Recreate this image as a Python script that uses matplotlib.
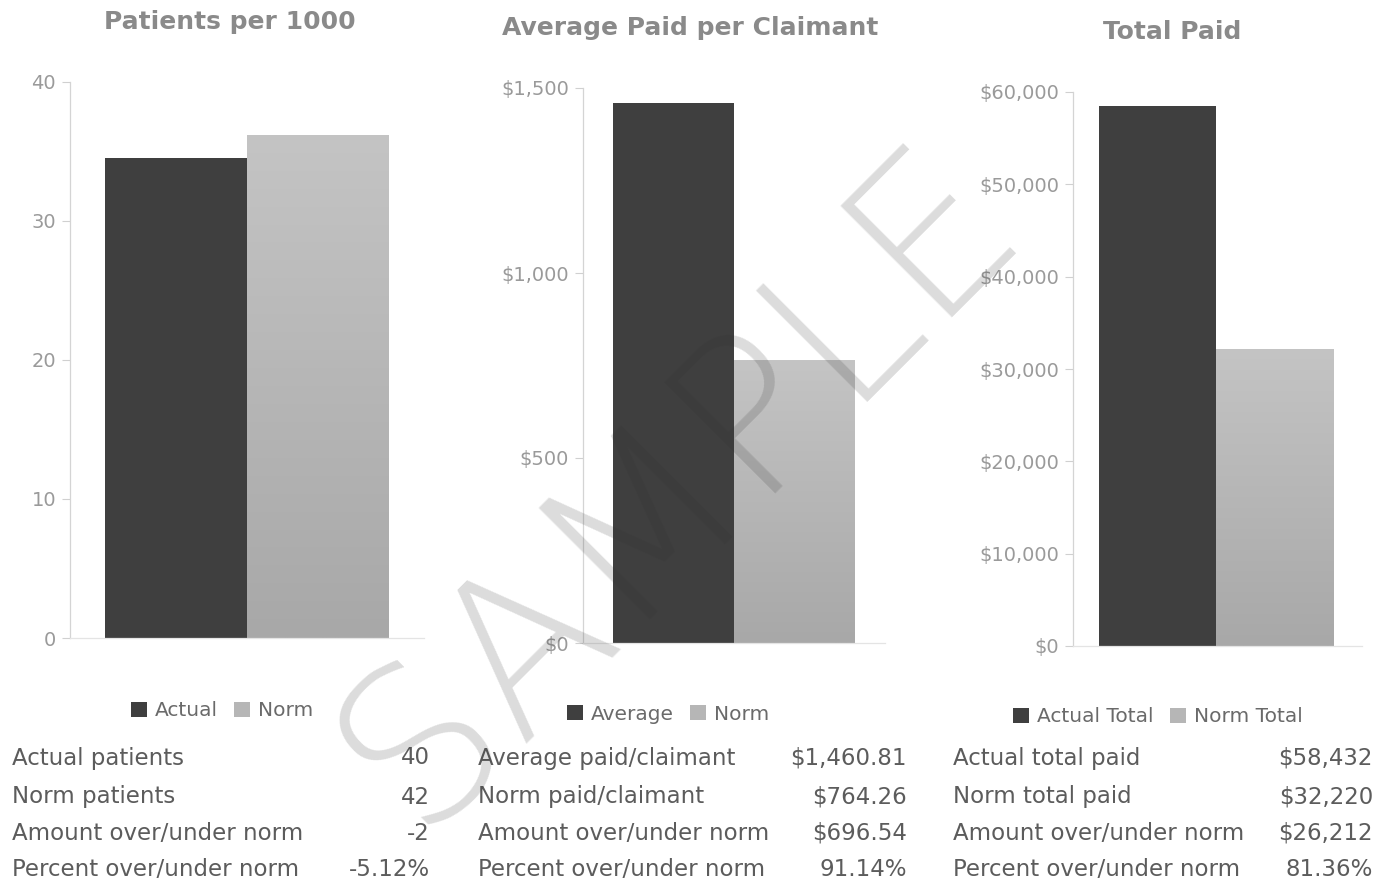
import matplotlib
matplotlib.use("Agg")
import matplotlib.pyplot as plt
import numpy as np
from matplotlib.ticker import FuncFormatter
from matplotlib.patches import Patch
from matplotlib.colors import LinearSegmentedColormap

# ---------------- data ----------------
titles = ["Patients per 1000", "Average Paid per Claimant", "Total Paid"]
legend_labels = [["Actual", "Norm"], ["Average", "Norm"], ["Actual Total", "Norm Total"]]
patients_vals = [34.5, 36.2]
avg_paid_vals = [1460.81, 764.26]
total_paid_vals = [58432, 32220]
y_limits = [40, 1500, 60000]
y_ticks = [[0, 10, 20, 30, 40], [0, 500, 1000, 1500], [0, 10000, 20000, 30000, 40000, 50000, 60000]]
money_axis = [False, True, True]

table_labels = [
    ["Actual patients", "Norm patients", "Amount over/under norm", "Percent over/under norm"],
    ["Average paid/claimant", "Norm paid/claimant", "Amount over/under norm", "Percent over/under norm"],
    ["Actual total paid", "Norm total paid", "Amount over/under norm", "Percent over/under norm"],
]
table_values = [
    ["40", "42", "-2", "-5.12%"],
    ["$1,460.81", "$764.26", "$696.54", "91.14%"],
    ["$58,432", "$32,220", "$26,212", "81.36%"],
]

# ---------------- style ----------------
W, H = 1389, 892
DPI = 100
dark = "#3f3f3f"
light = "#b6b6b6"
norm_cmap = LinearSegmentedColormap.from_list("normgrad", ["#a8a8a8", "#c4c4c4"])
plt.rcParams["font.family"] = ["DejaVu Sans"]
fig = plt.figure(figsize=(W / DPI, H / DPI), dpi=DPI)
fig.patch.set_facecolor("white")

def fx(px):
    return px / W

def fy(py):
    return 1 - py / H

# axes pixel boxes: (left, right, top, bottom, xlim-left)
boxes = [
    (70, 424, 82, 638, -0.75),
    (583, 885, 88, 643, -0.75),
    (1073, 1362, 92, 646, -0.72),
]
title_pos = [(230, 22), (690, 28), (1172, 32)]
legend_pos = [(222, 711), (668, 714), (1158, 717)]
table_x = [(12, 430), (478, 907), (953, 1373)]
row_y = [758, 797, 833, 869]

values = [patients_vals, avg_paid_vals, total_paid_vals]
grad = np.linspace(0, 1, 256).reshape(-1, 1)

for i in range(3):
    l, r, t, b, xl = boxes[i]
    ax = fig.add_axes([fx(l), fy(b), fx(r - l), (b - t) / H])
    vals = values[i]
    bars = ax.bar([0, 1], vals, width=1.0, color=[dark, light], edgecolor="none", zorder=2)
    # vertical gradient on the norm bar
    rect = bars[1]
    x0 = rect.get_x()
    im = ax.imshow(grad, cmap=norm_cmap, origin="lower", aspect="auto",
                   extent=(x0, x0 + rect.get_width(), 0, rect.get_height()), zorder=2.1)
    im.set_clip_path(rect)
    ax.set_xlim(xl, 1.75)
    ax.set_ylim(0, y_limits[i])
    ax.set_yticks(y_ticks[i])
    if money_axis[i]:
        ax.yaxis.set_major_formatter(FuncFormatter(lambda v, p: "${:,.0f}".format(v)))
    else:
        ax.yaxis.set_major_formatter(FuncFormatter(lambda v, p: "{:.0f}".format(v)))
    ax.set_xticks([])
    for s in ["top", "right"]:
        ax.spines[s].set_visible(False)
    ax.spines["left"].set_color("#d4d4d4")
    ax.spines["left"].set_linewidth(0.9)
    ax.spines["bottom"].set_color("#e4e4e4")
    ax.spines["bottom"].set_linewidth(0.9)
    ax.tick_params(axis="y", colors="#d0d0d0", labelcolor="#9a9a9a", labelsize=14, length=6, pad=4)
    ax.set_facecolor("white")

    # title
    tx, ty = title_pos[i]
    fig.text(fx(tx), fy(ty), titles[i], ha="center", va="center", fontsize=18,
             fontweight="bold", color="#8a8a8a")

    # legend
    lx, ly = legend_pos[i]
    handles = [Patch(facecolor=dark, edgecolor="none"), Patch(facecolor=light, edgecolor="none")]
    fig.legend(handles, legend_labels[i], loc="center", bbox_to_anchor=(fx(lx), fy(ly)),
               ncol=2, frameon=False, fontsize=14.5, handlelength=0.8, handleheight=0.8,
               handletextpad=0.4, columnspacing=0.8, labelcolor="#6a6a6a")

    # table
    x0t, x1t = table_x[i]
    for j in range(4):
        fig.text(fx(x0t), fy(row_y[j]), table_labels[i][j], ha="left", va="center",
                 fontsize=16.5, color="#5c5c5c")
        fig.text(fx(x1t), fy(row_y[j]), table_values[i][j], ha="right", va="center",
                 fontsize=16.5, color="#5c5c5c")

# watermark (semi-transparent, over everything)
fig.text(fx(680), fy(487), "SAMPLE", rotation=45, ha="center", va="center",
         fontsize=155, fontweight="light", color="#303030", alpha=0.17, zorder=10)

fig.savefig("out.png", dpi=DPI, facecolor="white")
